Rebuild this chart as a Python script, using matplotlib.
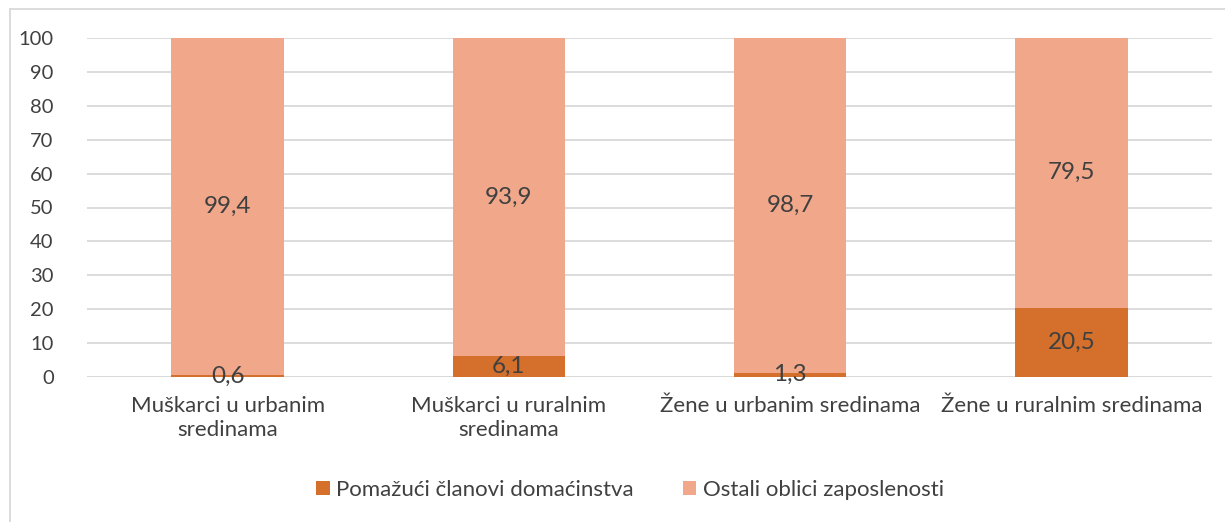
import numpy as np
import matplotlib.pyplot as plt
from matplotlib.lines import Line2D

categories = ['Muškarci u urbanim\nsredinama', 'Muškarci u ruralnim\nsredinama',
              'Žene u urbanim sredinama', 'Žene u ruralnim sredinama']
pomazuci = [0.6, 6.1, 1.3, 20.5]
ostali = [99.4, 93.9, 98.7, 79.5]
labels_pomazuci = ['0,6', '6,1', '1,3', '20,5']
labels_ostali = ['99,4', '93,9', '98,7', '79,5']
series_names = ['Pomažući članovi domaćinstva', 'Ostali oblici zaposlenosti']

c_dark = '#D4702B'
c_light = '#F1A88A'
txt = '#404040'

plt.rcParams['font.family'] = ['Lato', 'DejaVu Sans']

fig = plt.figure(figsize=(12.25, 5.22), dpi=100)
ax = fig.add_axes([87 / 1225, 1 - 377 / 522, (1212 - 87) / 1225, (377 - 38) / 522])

x = np.arange(len(categories))
w = 0.4
b1 = ax.bar(x, pomazuci, w, color=c_dark, label=series_names[0], zorder=3)
b2 = ax.bar(x, ostali, w, bottom=pomazuci, color=c_light, label=series_names[1], zorder=3)

for i in range(len(categories)):
    ax.text(x[i], pomazuci[i] / 2, labels_pomazuci[i], ha='center', va='center',
            fontsize=17.5, color=txt, zorder=4)
    ax.text(x[i], pomazuci[i] + ostali[i] / 2, labels_ostali[i], ha='center', va='center',
            fontsize=17.5, color=txt, zorder=4)

ax.set_xlim(-0.5, 3.5)
ax.set_ylim(0, 100)
ax.set_yticks(range(0, 101, 10))
ax.set_xticks(x)
ax.set_xticklabels(categories, fontsize=16, color=txt, linespacing=1.2)
ax.tick_params(axis='y', labelsize=14.5, labelcolor=txt, length=0, pad=24)
ax.tick_params(axis='x', length=0, pad=14)
ax.grid(axis='y', color='#D9D9D9', linewidth=1.3, zorder=0)
for s in ax.spines.values():
    s.set_visible(False)
ax.axhline(0, color='#D9D9D9', linewidth=1.3, zorder=1)

fig.legend(handles=[b1, b2], labels=series_names, loc='center', bbox_to_anchor=(630 / 1225, 1 - 490 / 522),
           ncol=2, frameon=False, fontsize=16, handlelength=0.6, handleheight=0.6,
           handletextpad=0.3, columnspacing=2.2, labelcolor=txt)

# chart border
fig.add_artist(Line2D([10 / 1225, 10 / 1225], [0, 1 - 9 / 522], transform=fig.transFigure,
                      color='#D9D9D9', linewidth=1.3))
fig.add_artist(Line2D([10 / 1225, 1], [1 - 9 / 522, 1 - 9 / 522], transform=fig.transFigure,
                      color='#D9D9D9', linewidth=1.3))

fig.savefig('out.png', dpi=100)
